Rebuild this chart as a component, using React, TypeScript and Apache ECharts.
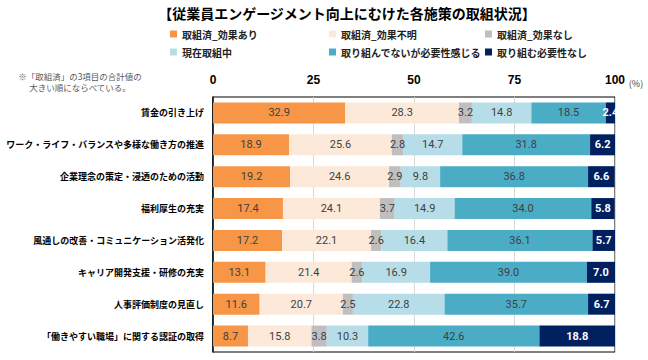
import React, { useEffect, useRef } from "react";
import * as echarts from "echarts";

const categories = [
  "賃金の引き上げ",
  "ワーク・ライフ・バランスや多様な働き方の推進",
  "企業理念の策定・浸透のための活動",
  "福利厚生の充実",
  "風通しの改善・コミュニケーション活発化",
  "キャリア開発支援・研修の充実",
  "人事評価制度の見直し",
  "「働きやすい職場」に関する認証の取得",
];

const seriesNames = [
  "取組済_効果あり",
  "取組済_効果不明",
  "取組済_効果なし",
  "現在取組中",
  "取り組んでないが必要性感じる",
  "取り組む必要性なし",
];

const effectYes = [32.9, 18.9, 19.2, 17.4, 17.2, 13.1, 11.6, 8.7];
const effectUnknown = [28.3, 25.6, 24.6, 24.1, 22.1, 21.4, 20.7, 15.8];
const effectNo = [3.2, 2.8, 2.9, 3.7, 2.6, 2.6, 2.5, 3.8];
const inProgress = [14.8, 14.7, 9.8, 14.9, 16.4, 16.9, 22.8, 10.3];
const notButNeeded = [18.5, 31.8, 36.8, 34.0, 36.1, 39.0, 35.7, 42.6];
const notNeeded = [2.4, 6.2, 6.6, 5.8, 5.7, 7.0, 6.7, 18.8];

const xTicks = [0, 25, 50, 75, 100];

const seriesData = [effectYes, effectUnknown, effectNo, inProgress, notButNeeded, notNeeded];
const colors = ["#F79646", "#FDE9D9", "#BFBFBF", "#B7DEE8", "#4BACC6", "#002060"];
const labelColors = ["#404040", "#404040", "#404040", "#404040", "#404040", "#FFFFFF"];

const legendPos = [
  { left: 170, top: 29 },
  { left: 329, top: 29 },
  { left: 485, top: 29 },
  { left: 170, top: 47 },
  { left: 329, top: 47 },
  { left: 485, top: 47 },
];

const JP = "'Noto Sans CJK JP', 'Noto Sans', sans-serif";
const NUM = "'Liberation Sans Narrow', 'Roboto', 'Liberation Sans', sans-serif";

export default function App() {
  const ref = useRef<HTMLDivElement>(null);
  useEffect(() => {
    if (!ref.current) return;
    const chart = echarts.init(ref.current, undefined, { renderer: "svg" });
    chart.setOption({
      animation: false,
      backgroundColor: "#fff",
      graphic: [
        {
          type: "text",
          x: 347,
          y: 13,
          style: {
            text: "【従業員エンゲージメント向上にむけた各施策の取組状況】",
            font: `bold 14px ${JP}`,
            fill: "#000",
            textAlign: "center",
            textVerticalAlign: "middle",
          },
        },
        {
          type: "text",
          x: 80,
          y: 76,
          style: {
            text: "※「取組済」の3項目の合計値の",
            font: `8.5px ${JP}`,
            fill: "#595959",
            textAlign: "center",
            textVerticalAlign: "middle",
          },
        },
        {
          type: "text",
          x: 80,
          y: 87,
          style: {
            text: "大きい順にならべている。",
            font: `8.5px ${JP}`,
            fill: "#595959",
            textAlign: "center",
            textVerticalAlign: "middle",
          },
        },
        {
          type: "text",
          x: 636,
          y: 83,
          style: {
            text: "(%)",
            font: `9px ${JP}`,
            fill: "#404040",
            textAlign: "center",
            textVerticalAlign: "middle",
          },
        },
      ],
      legend: seriesNames.map((n, i) => ({
        data: [n],
        left: legendPos[i].left,
        top: legendPos[i].top,
        padding: 0,
        itemWidth: 7,
        itemHeight: 7,
        icon: "rect",
        selectedMode: false,
        textStyle: { fontFamily: JP, fontSize: 10, fontWeight: "bold", color: "#222" },
      })),
      grid: {
        left: 213,
        right: 33,
        top: 97,
        bottom: 8,
        show: true,
        borderColor: "#000",
        borderWidth: 1,
        containLabel: false,
      },
      xAxis: {
        type: "value",
        position: "top",
        min: xTicks[0],
        max: xTicks[xTicks.length - 1],
        interval: 25,
        axisLine: { show: false },
        axisTick: { show: false },
        splitLine: { show: true, lineStyle: { color: "#D9D9D9", width: 1 } },
        axisLabel: {
          margin: 11,
          fontFamily: "'Liberation Sans', sans-serif",
          fontSize: 12,
          fontWeight: "bold",
          color: "#000",
        },
      },
      yAxis: {
        type: "category",
        inverse: true,
        data: categories,
        axisLine: { show: true, lineStyle: { color: "#000", width: 1.5 } },
        axisTick: { show: false },
        axisLabel: {
          margin: 9,
          fontFamily: JP,
          fontSize: 9,
          fontWeight: "bold",
          color: "#000",
        },
      },
      series: seriesNames.map((n, i) => ({
        name: n,
        type: "bar",
        stack: "total",
        barWidth: 21,
        data: seriesData[i],
        itemStyle: { color: colors[i] },
        label: {
          show: true,
          position: "inside",
          formatter: (p: any) => Number(p.value).toFixed(1),
          fontFamily: NUM,
          fontSize: 11,
          fontWeight: i === 5 ? "bold" : "normal",
          color: labelColors[i],
        },
      })),
    });
    return () => chart.dispose();
  }, []);
  return <div ref={ref} style={{ width: 648, height: 360, position: "absolute", left: 0, top: 0 }} />;
}
